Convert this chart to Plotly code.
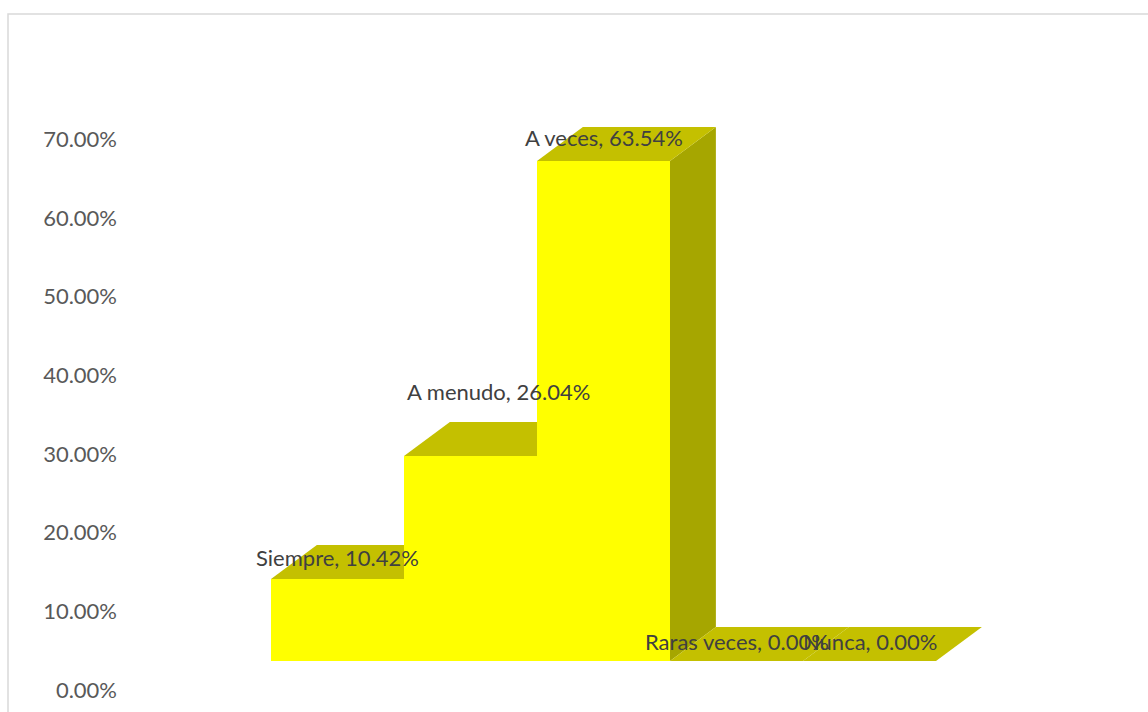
import plotly.graph_objects as go

# Survey answers and their shares (percent)
categories = ["Siempre", "A menudo", "A veces", "Raras veces", "Nunca"]
values = [10.42, 26.04, 63.54, 0.00, 0.00]
tick_values = [0, 10, 20, 30, 40, 50, 60, 70]
tick_labels = ["0.00%", "10.00%", "20.00%", "30.00%", "40.00%", "50.00%", "60.00%", "70.00%"]

# Pseudo-3D box styling
FRONT = "#FFFF00"
TOP = "#C4C000"
SIDE = "#A6A600"
DEPTH_X = 0.345   # depth offset in category units
DEPTH_Y = 4.32    # depth offset in percent units
HALF = 0.5        # bars touch each other (no gap)

# label nudges in pixels (x, y)
label_shift = [(0, 21), (28, 65), (0, 23), (0, 20), (0, 20)]

fig = go.Figure()

# invisible trace so the value axis is laid out with its ticks
fig.add_trace(go.Scatter(x=[0], y=[0], mode="markers", marker=dict(opacity=0),
                         hoverinfo="skip", showlegend=False, xaxis="x", yaxis="y"))


def poly(xs, ys, color):
    fig.add_trace(go.Scatter(
        x=xs + [xs[0]], y=ys + [ys[0]], mode="lines", fill="toself",
        fillcolor=color, line=dict(width=0, color=color),
        hoverinfo="skip", showlegend=False, xaxis="x", yaxis="y2"))


# back faces first: side and top of each box
for i, v in enumerate(values):
    l, r = i - HALF, i + HALF
    poly([r, r + DEPTH_X, r + DEPTH_X, r], [0, DEPTH_Y, v + DEPTH_Y, v], SIDE)
    poly([l, l + DEPTH_X, r + DEPTH_X, r], [v, v + DEPTH_Y, v + DEPTH_Y, v], TOP)

# front faces on top
for i, v in enumerate(values):
    if v > 0:
        l, r = i - HALF, i + HALF
        poly([l, l, r, r], [0, v, v, 0], FRONT)

# data labels
for i, (c, v) in enumerate(zip(categories, values)):
    sx, sy = label_shift[i]
    fig.add_annotation(
        x=i, y=v, xref="x", yref="y2", text=f"{c}, {v:.2f}%",
        showarrow=False, xshift=sx, yshift=sy,
        font=dict(family="Lato", size=22, color="#404040"))

# light chart frame
fig.add_shape(type="rect", xref="paper", yref="paper",
              x0=(8 - 120) / 1028, x1=1.05, y0=-0.05, y1=1 - 14 / 712,
              line=dict(color="#D9D9D9", width=1.5), fillcolor="rgba(0,0,0,0)",
              layer="below")

K = 7.87  # pixels per percentage point
fig.update_layout(
    width=1148, height=712,
    margin=dict(l=120, r=0, t=0, b=0),
    paper_bgcolor="white", plot_bgcolor="white",
    showlegend=False,
    xaxis=dict(range=[-0.5 - 151 / 133, -0.5 - 151 / 133 + 1028 / 133],
               visible=False, fixedrange=True),
    yaxis=dict(range=[-22 / K, -22 / K + 712 / K],
               tickvals=tick_values, ticktext=tick_labels,
               showgrid=False, zeroline=False, showline=False, ticks="",
               automargin=False, ticklabelstandoff=2,
               tickfont=dict(family="Lato", size=22, color="#595959")),
    yaxis2=dict(range=[-51 / K, -51 / K + 712 / K], overlaying="y",
                visible=False, fixedrange=True),
)

fig.write_html("out.html")
